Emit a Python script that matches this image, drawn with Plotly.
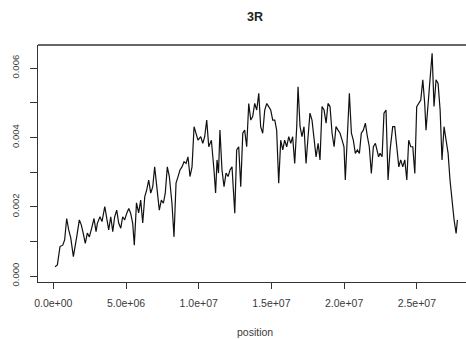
import plotly.graph_objects as go

# Positions (Mb) and values (x1e-3)
pos_mb = [0.12, 0.28, 0.46, 0.65, 0.78, 0.92, 1.06, 1.20, 1.38, 1.51, 1.61, 1.79, 1.93, 2.06, 2.20, 2.34, 2.48, 2.66, 2.80, 2.94,
          3.03, 3.21, 3.35, 3.54, 3.67, 3.81, 3.95, 4.09, 4.22, 4.36, 4.50, 4.64, 4.77, 4.91, 5.05, 5.19, 5.32, 5.46, 5.57, 5.72,
          5.87, 6.01, 6.15, 6.29, 6.42, 6.56, 6.70, 6.84, 6.97, 7.11, 7.29, 7.43, 7.57, 7.70, 7.84, 7.98, 8.16, 8.30, 8.44, 8.58,
          8.71, 8.85, 8.99, 9.13, 9.26, 9.40, 9.54, 9.68, 9.81, 9.95, 10.14, 10.28, 10.41, 10.55, 10.69, 10.87, 11.05, 11.16, 11.26, 11.36,
          11.46, 11.60, 11.74, 11.88, 12.02, 12.15, 12.29, 12.48, 12.61, 12.75, 12.89, 13.03, 13.16, 13.30, 13.44, 13.58, 13.71, 13.85, 13.99, 14.13,
          14.26, 14.40, 14.54, 14.68, 14.81, 14.95, 15.09, 15.23, 15.36, 15.50, 15.64, 15.78, 15.91, 16.05, 16.19, 16.33, 16.46, 16.60, 16.74, 16.83,
          16.97, 17.10, 17.24, 17.38, 17.52, 17.65, 17.79, 17.93, 18.07, 18.21, 18.34, 18.48, 18.62, 18.76, 18.89, 19.03, 19.17, 19.31, 19.44, 19.58,
          19.72, 19.86, 19.99, 20.08, 20.22, 20.36, 20.50, 20.63, 20.77, 20.91, 21.05, 21.18, 21.32, 21.46, 21.60, 21.73, 21.87, 22.01, 22.15, 22.26,
          22.37, 22.47, 22.61, 22.74, 22.88, 23.02, 23.16, 23.34, 23.48, 23.62, 23.76, 23.89, 24.03, 24.17, 24.31, 24.44, 24.58, 24.72, 24.86, 24.99,
          25.13, 25.27, 25.41, 25.54, 25.63, 25.77, 25.91, 26.05, 26.18, 26.32, 26.46, 26.60, 26.73, 26.87, 27.01, 27.15, 27.28, 27.42, 27.56, 27.70,
          27.79]
val_e3 = [0.27, 0.32, 0.85, 0.89, 1.04, 1.66, 1.33, 1.10, 0.56, 0.85, 1.13, 1.62, 1.47, 1.23, 0.94, 1.24, 1.13, 1.42, 1.66, 1.28,
          1.52, 1.71, 1.57, 2.00, 1.62, 1.33, 1.71, 1.28, 1.71, 1.90, 1.52, 1.38, 1.71, 1.62, 1.81, 1.95, 1.81, 1.52, 0.89, 2.11,
          1.82, 2.19, 1.53, 2.29, 2.48, 2.77, 2.39, 2.58, 3.15, 2.58, 1.90, 2.19, 2.10, 2.39, 3.15, 2.87, 2.10, 1.13, 2.68, 2.87,
          3.06, 3.15, 3.30, 3.25, 3.44, 2.87, 3.15, 4.31, 4.12, 3.92, 4.02, 3.83, 4.02, 4.50, 3.73, 3.92, 3.06, 2.40, 3.35, 2.97,
          4.21, 3.06, 2.58, 2.97, 2.87, 3.06, 3.15, 1.81, 3.64, 3.73, 2.58, 4.12, 4.21, 3.73, 4.98, 4.50, 4.60, 4.98, 4.79, 5.27,
          4.31, 4.12, 4.79, 4.98, 4.89, 4.79, 4.50, 4.50, 4.21, 2.68, 3.92, 3.64, 3.92, 3.73, 4.02, 3.83, 4.02, 3.25, 4.31, 5.46,
          4.31, 4.02, 4.31, 3.25, 4.02, 4.70, 4.50, 3.92, 3.44, 3.83, 3.35, 4.89, 4.79, 4.41, 4.98, 4.89, 4.12, 3.73, 4.31, 4.21,
          4.12, 3.92, 3.73, 2.77, 3.92, 5.27, 4.12, 3.92, 3.54, 3.64, 3.54, 4.12, 4.21, 4.41, 4.02, 3.73, 2.96, 3.73, 3.83, 3.64,
          3.44, 3.54, 3.44, 4.70, 4.79, 2.77, 3.64, 4.31, 4.31, 3.73, 3.15, 3.35, 3.15, 3.35, 2.77, 3.92, 3.73, 3.73, 2.96, 4.89,
          4.98, 5.08, 5.66, 4.98, 4.21, 4.89, 5.66, 6.43, 4.89, 5.66, 5.56, 4.79, 3.35, 4.31, 3.92, 3.54, 2.77, 2.10, 1.62, 1.23,
          1.62]

x_ticks = [0, 5e6, 1e7, 1.5e7, 2e7, 2.5e7]
x_tick_labels = ["0.0e+00", "5.0e+06", "1.0e+07", "1.5e+07", "2.0e+07", "2.5e+07"]
y_ticks = [0.000, 0.001, 0.002, 0.003, 0.004, 0.005, 0.006]
y_tick_labels = ["0.000", "", "0.002", "", "0.004", "", "0.006"]

title_text = "3R"
x_label = "position"

x = [p * 1e6 for p in pos_mb]
y = [v * 1e-3 for v in val_e3]

FONT = "Liberation Sans, Arial, sans-serif"
TXT = "#3a3a3a"

fig = go.Figure()
fig.add_trace(go.Scatter(x=x, y=y, mode="lines",
                         line=dict(color="#111111", width=1.2), showlegend=False,
                         hoverinfo="skip"))

fig.update_layout(
    width=466, height=339,
    margin=dict(l=38, r=0, t=45, b=57, autoexpand=False),
    paper_bgcolor="white", plot_bgcolor="white",
    font=dict(family=FONT, size=10, color=TXT),
    xaxis=dict(range=[-1.052e6, 28.38e6], tickvals=x_ticks, ticktext=x_tick_labels,
               automargin=False,
               showgrid=False, zeroline=False, showline=True, linecolor="#333333", linewidth=1.3,
               ticks="outside", ticklen=6, tickwidth=1.2, tickcolor="#333333",
               ticklabelstandoff=5, tickfont=dict(size=10.5, color=TXT)),
    yaxis=dict(range=[-0.000173, 0.006667], tickvals=y_ticks, ticktext=y_tick_labels,
               automargin=False,
               showgrid=False, zeroline=False, showline=True, linecolor="#333333", linewidth=1.3,
               ticks="outside", ticklen=7, tickwidth=1.2, tickcolor="#333333",
               tickangle=-90, ticklabelstandoff=7, tickfont=dict(size=9.5, color=TXT)),
    shapes=[dict(type="line", xref="paper", yref="paper", x0=0, x1=1, y0=1, y1=1,
                 line=dict(color="#333333", width=1.3))],
    annotations=[
        dict(text="<b>" + title_text + "</b>", xref="paper", yref="paper",
             x=0.507, y=1, yshift=28, yanchor="middle", showarrow=False,
             font=dict(size=12.5, color="#222222", family=FONT)),
        dict(text=x_label, xref="paper", yref="paper", x=0.507, y=0, yshift=-50,
             yanchor="middle", showarrow=False,
             font=dict(size=10.5, color=TXT, family=FONT)),
    ],
)

fig.write_html("out.html", config={"displayModeBar": False},
               post_script="document.body.style.margin='0';document.body.style.padding='0';")
